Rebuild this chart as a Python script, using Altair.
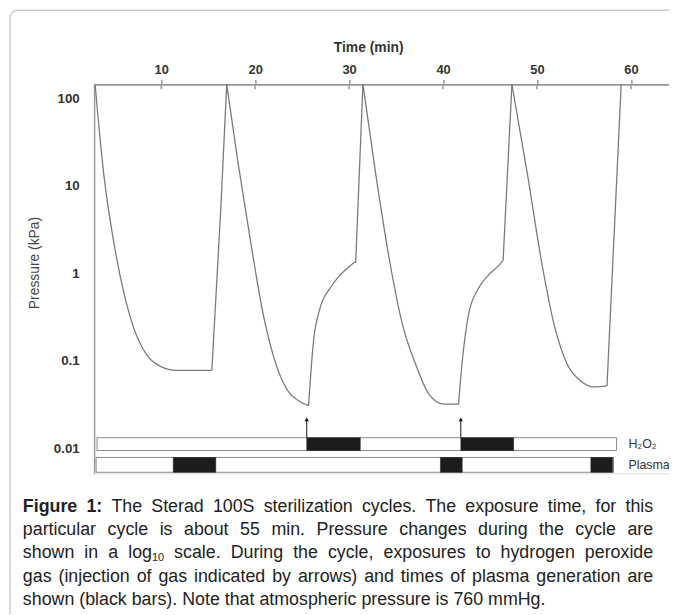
import altair as alt
import pandas as pd

# ---------------- data ----------------
# pressure curve: time (min) / pressure (kPa), in drawing order
curve_t = [2.96, 3.91, 4.96, 6.01, 7.07, 8.44, 9.91, 11.60, 15.39, 16.34,
           16.97, 18.13, 19.53, 20.94, 22.34, 23.74, 24.63, 25.68, 26.21, 26.90,
           27.95, 29.01, 30.06, 30.59, 30.70,
           31.47, 32.87, 34.27, 35.69, 37.09, 38.49, 40.07, 41.65, 42.01, 42.70,
           43.75, 44.81, 45.86, 46.39,
           47.33, 49.02, 50.43, 51.83, 53.23, 54.65, 56.05, 57.45,
           58.96]
curve_p = [143.9, 12.8, 2.24, 0.610, 0.239, 0.118, 0.0867, 0.078, 0.078, 5.42,
           143.9, 19.8, 2.25, 0.308, 0.0837, 0.0418, 0.0352, 0.0308, 0.168, 0.399,
           0.672, 0.949, 1.21, 1.34, 1.34,
           143.9, 12.8, 1.47, 0.258, 0.0912, 0.0418, 0.0322, 0.0322, 0.0912, 0.335,
           0.672, 0.949, 1.21, 1.40,
           143.9, 12.8, 1.47, 0.258, 0.0912, 0.0592, 0.0506, 0.0519,
           143.9]
# curved stretches (pump-down / diffusion) and straight stretches (venting),
# as index ranges into the curve lists
smooth_ranges = [(0, 8), (10, 17), (17, 23), (25, 32), (32, 38), (39, 46)]
straight_ranges = [(8, 10), (23, 25), (38, 39), (46, 47)]

x_ticks = [10, 20, 30, 40, 50, 60]
y_ticks = [0.01, 0.1, 1, 10, 100]

# timeline lanes (drawn under the pressure scale)
lane_names = ["H₂O₂", "Plasma"]
lane_start = [3.17, 3.07]
lane_end = [58.47, 58.15]
lane_top = [0.01331, 0.00791]
lane_bottom = [0.00949, 0.00536]
lane_mid = [0.01124, 0.0065]

# black bars: H2O2 exposure and plasma generation
h2o2_start = [25.49, 41.89]
h2o2_end = [31.19, 47.51]
plasma_start = [11.28, 39.72, 55.73]
plasma_end = [15.81, 42.04, 58.05]

# injection arrows
arrow_t = [25.49, 41.89]

caption_lines = [
    "Figure 1: The Sterad 100S sterilization cycles. The exposure time, for this",
    "particular cycle is about 55 min. Pressure changes during the cycle are",
    "shown in a log_10 scale. During the cycle, exposures to hydrogen peroxide",
    "gas (injection of gas indicated by arrows) and times of plasma generation are",
    "shown (black bars). Note that atmospheric pressure is 760 mmHg.",
]

# ---------------- layout helpers ----------------
FONT = "Liberation Sans"
PLOT_W, PLOT_H = 581, 393
PAD_L, PAD_T = 87, 74
ORG_X, ORG_Y = 95, 82   # page position of plot origin

REG = {' ': 278, '(': 333, ')': 333, ',': 278, '.': 278, ':': 278, '-': 333,
       'A': 667, 'B': 667, 'C': 722, 'D': 722, 'E': 667, 'F': 611, 'G': 778,
       'H': 722, 'I': 278, 'J': 500, 'K': 667, 'L': 556, 'M': 833, 'N': 722,
       'O': 778, 'P': 667, 'Q': 778, 'R': 722, 'S': 667, 'T': 611, 'U': 722,
       'V': 667, 'W': 944, 'X': 667, 'Y': 667, 'Z': 611,
       'a': 556, 'b': 556, 'c': 500, 'd': 556, 'e': 556, 'f': 278, 'g': 556,
       'h': 556, 'i': 222, 'j': 222, 'k': 500, 'l': 222, 'm': 833, 'n': 556,
       'o': 556, 'p': 556, 'q': 556, 'r': 333, 's': 500, 't': 278, 'u': 556,
       'v': 500, 'w': 722, 'x': 500, 'y': 500, 'z': 500}
for d in "0123456789":
    REG[d] = 556
BOLD = {'F': 611, 'i': 278, 'g': 611, 'u': 611, 'r': 389, 'e': 556, '1': 556,
        ':': 333, ' ': 278}


def tw(s, size, bold=False):
    tab = BOLD if bold else REG
    return sum(tab.get(c, 556) for c in s) * size / 1000.0


FS = 18
SUB_FS = 11
cap_left, cap_right = 23, 660
line_y = [509, 532.5, 556, 579.5, 603]

norm_rows, bold_rows, sub_rows = [], [], []
for li, line in enumerate(caption_lines):
    words = line.split(" ")
    widths = []
    for wi, w in enumerate(words):
        if "_" in w:
            base, sub = w.split("_")
            widths.append(tw(base, FS) + tw(sub, SUB_FS))
        else:
            widths.append(tw(w, FS, bold=(li == 0 and wi < 2)))
    if li < len(caption_lines) - 1:
        gap = (cap_right - cap_left - sum(widths)) / (len(words) - 1)
    else:
        gap = tw(" ", FS)
    x = cap_left
    for wi, w in enumerate(words):
        py = line_y[li] - ORG_Y
        if "_" in w:
            base, sub = w.split("_")
            norm_rows.append({"w": base, "px": x - ORG_X, "py": py})
            sub_rows.append({"w": sub, "px": x + tw(base, FS) - ORG_X, "py": py + 5})
        elif li == 0 and wi < 2:
            bold_rows.append({"w": w, "px": x - ORG_X, "py": py})
        else:
            norm_rows.append({"w": w, "px": x - ORG_X, "py": py})
        x += widths[wi] + gap

# ---------------- tables ----------------
def segments(ranges):
    rows = []
    for si, (a, b) in enumerate(ranges):
        for k in range(a, b + 1):
            rows.append({"seg": si, "i": k, "t": curve_t[k], "p": curve_p[k]})
    return pd.DataFrame(rows)


smooth_df = segments(smooth_ranges)
straight_df = segments(straight_ranges)
tick_df = pd.DataFrame({"t": x_ticks})
lane_df = pd.DataFrame({"lane": lane_names, "start": lane_start, "end": lane_end,
                        "top": lane_top, "bottom": lane_bottom, "mid": lane_mid})
black_df = pd.DataFrame({
    "start": h2o2_start + plasma_start,
    "end": h2o2_end + plasma_end,
    "top": [lane_top[0]] * len(h2o2_start) + [lane_top[1]] * len(plasma_start),
    "bottom": [lane_bottom[0]] * len(h2o2_start) + [lane_bottom[1]] * len(plasma_start),
})
arrow_df = pd.DataFrame({"t": arrow_t, "tip": [0.0215] * len(arrow_t),
                         "base": [lane_top[0]] * len(arrow_t)})

# ---------------- scales / axes ----------------
xs = alt.Scale(domain=[2.854, 64.05], nice=False, zero=False)
ys = alt.Scale(type="log", domain=[0.00522, 143.9], nice=False)

x_axis = alt.Axis(orient="top", values=x_ticks, format="d", grid=False,
                  tickSize=5, tickWidth=1.5, tickColor="#9a9a9a",
                  domainColor="#9a9a9a", domainWidth=1.6,
                  labelFont=FONT, labelFontSize=13, labelFontWeight="bold",
                  labelColor="#333333", labelPadding=3, labelFlush=False,
                  labelOverlap=False,
                  title="Time (min)", titleFont=FONT, titleFontSize=14,
                  titleFontWeight="bold", titleColor="#333333",
                  titleX=277, titleY=-37, titleAlign="center",
                  titleBaseline="middle", titleAngle=0)
y_axis = alt.Axis(orient="left", values=y_ticks, format="~g", grid=False, ticks=False,
                  domainColor="#9a9a9a", domainWidth=1.5,
                  labelFont=FONT, labelFontSize=13.5, labelFontWeight="bold",
                  labelColor="#333333", labelPadding=15, labelFlush=False,
                  labelOverlap=False,
                  title="Pressure (kPa)", titleFont=FONT, titleFontSize=14,
                  titleFontWeight="normal", titleColor="#444444",
                  titleAngle=270, titleX=-60, titleY=180, titleAlign="center",
                  titleBaseline="middle")


def X(field):
    return alt.X(field, scale=xs, axis=x_axis, title="Time (min)")


def Y(field):
    return alt.Y(field, scale=ys, axis=y_axis, title="Pressure (kPa)")


curve_smooth = alt.Chart(smooth_df).mark_line(
    color="#7a7a7a", strokeWidth=1.3, interpolate="monotone").encode(
    x=X("t:Q"), y=Y("p:Q"), detail="seg:N", order="i:Q")
curve_straight = alt.Chart(straight_df).mark_line(
    color="#7a7a7a", strokeWidth=1.3).encode(
    x=X("t:Q"), y=Y("p:Q"), detail="seg:N", order="i:Q")
ticks_below = alt.Chart(tick_df).mark_rule(color="#9a9a9a", strokeWidth=1.5).encode(
    x=X("t:Q"), y=alt.value(0), y2=alt.value(5))
lanes = alt.Chart(lane_df).mark_rect(fill="white", stroke="#8a8a8a", strokeWidth=1).encode(
    x=X("start:Q"), x2="end:Q", y=Y("top:Q"), y2="bottom:Q")
blacks = alt.Chart(black_df).mark_rect(fill="#1c1c1c", stroke="#1c1c1c", strokeWidth=0.5).encode(
    x=X("start:Q"), x2="end:Q", y=Y("top:Q"), y2="bottom:Q")
arrows = alt.Chart(arrow_df).mark_rule(color="#111111", strokeWidth=1).encode(
    x=X("t:Q"), y=Y("tip:Q"), y2="base:Q")
heads = alt.Chart(arrow_df).mark_point(shape="triangle-up", filled=True, size=18,
                                       color="#111111", opacity=1).encode(
    x=X("t:Q"), y=Y("tip:Q"))
lane_labels = alt.Chart(lane_df).mark_text(align="left", baseline="middle", font=FONT,
                                           fontSize=12.5, color="#333333").encode(
    x=alt.value(540), y=Y("mid:Q"), text="lane:N")

main = alt.layer(curve_smooth, curve_straight, ticks_below, lanes, blacks,
                 arrows, heads, lane_labels)

# ---------------- caption & frame (pixel layer) ----------------
px_scale = alt.Scale(domain=[0, PLOT_W], range=[0, PLOT_W], nice=False, zero=False)
py_scale = alt.Scale(domain=[0, PLOT_H], range=[0, PLOT_H], nice=False, zero=False)

frame = alt.Chart(pd.DataFrame({"a": [0]})).mark_rect(
    fillOpacity=0, stroke="#cccccc", strokeWidth=1.5, cornerRadius=8).encode(
    x=alt.value(-85), x2=alt.value(700), y=alt.value(-75), y2=alt.value(700))
cap_norm = alt.Chart(pd.DataFrame(norm_rows)).mark_text(
    align="left", baseline="middle", font=FONT, fontSize=FS, color="#222222").encode(
    x=alt.X("px:Q", scale=px_scale, axis=None),
    y=alt.Y("py:Q", scale=py_scale, axis=None), text="w:N")
cap_bold = alt.Chart(pd.DataFrame(bold_rows)).mark_text(
    align="left", baseline="middle", font=FONT, fontSize=FS, fontWeight="bold",
    color="#222222").encode(
    x=alt.X("px:Q", scale=px_scale, axis=None),
    y=alt.Y("py:Q", scale=py_scale, axis=None), text="w:N")
cap_sub = alt.Chart(pd.DataFrame(sub_rows)).mark_text(
    align="left", baseline="middle", font=FONT, fontSize=SUB_FS, color="#222222").encode(
    x=alt.X("px:Q", scale=px_scale, axis=None),
    y=alt.Y("py:Q", scale=py_scale, axis=None), text="w:N")

caption = alt.layer(frame, cap_norm, cap_bold, cap_sub)

chart = alt.layer(main, caption).resolve_scale(
    x="independent", y="independent"
).properties(
    width=PLOT_W, height=PLOT_H,
    autosize=alt.AutoSizeParams(type="none"),
    padding={"left": PAD_L, "top": PAD_T, "right": 0, "bottom": 139},
).configure_view(strokeWidth=0).configure(background="white")

chart.save("out.html", embed_options={"renderer": "svg", "actions": False})
